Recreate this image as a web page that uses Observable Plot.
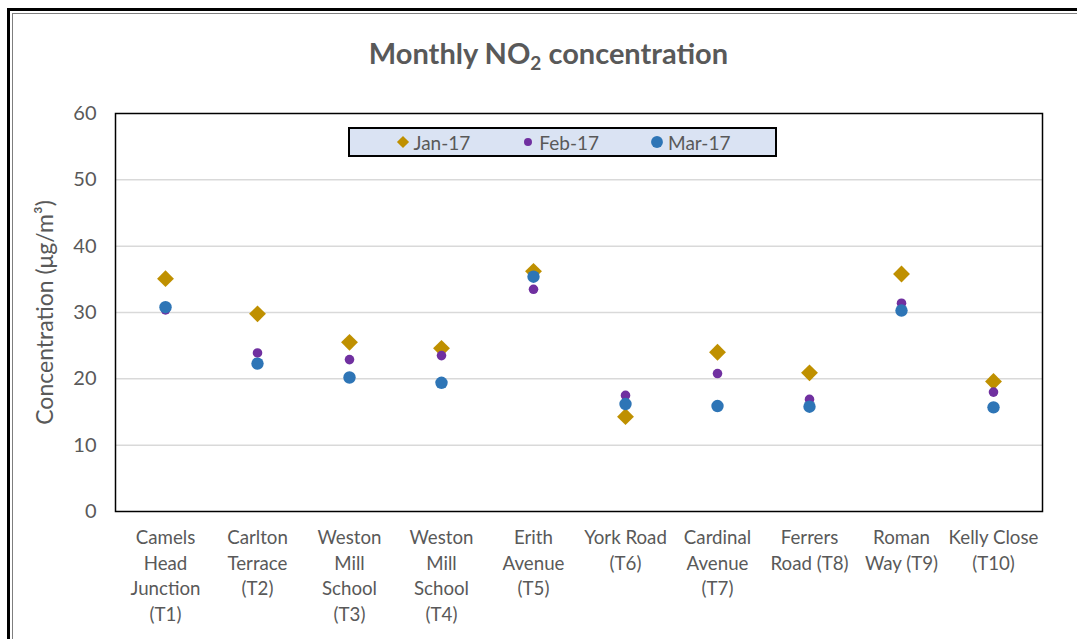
<!DOCTYPE html>
<html>
<head>
<meta charset="utf-8">
<script src="https://cdn.jsdelivr.net/npm/d3@7"></script>
<script src="https://cdn.jsdelivr.net/npm/@observablehq/plot@0.6"></script>
<style>
  html, body { margin: 0; padding: 0; background: #fff; }
  #wrap { position: relative; width: 1077px; height: 639px; overflow: hidden; font-family: Lato, "Open Sans", sans-serif; color: #595959; }
  #frame1 { position: absolute; left: 7px; top: 8px; width: 1200px; height: 800px; border: 3px solid #000; box-sizing: border-box; }
  #frame2 { position: absolute; left: 12px; top: 13px; width: 1200px; height: 800px; border: 1px solid #7f7f7f; box-sizing: border-box; }
  #title { position: absolute; left: 0; width: 1097px; top: 35px; text-align: center; font-size: 29px; font-weight: bold; color: #595959; }
  #title sub { font-size: 19px; vertical-align: -6px; line-height: 0; }
  #chart { position: absolute; left: 0; top: 0; }
  #legend { position: absolute; left: 348px; top: 127px; width: 429px; height: 30px; box-sizing: border-box; border: 2px solid #000; background: #dae3f3; display: flex; align-items: center; justify-content: center; gap: 50px; font-size: 19px; color: #595959; }
  #legend .item { display: flex; align-items: center; gap: 3px; }
</style>
</head>
<body>
<div id="wrap">
  <div id="frame1"></div>
  <div id="frame2"></div>
  <div id="chart"></div>
  <div id="title">Monthly NO<sub>2</sub> concentration</div>
  <div id="legend"></div>
</div>
<script>
const sites = [
  "Camels\nHead\nJunction\n(T1)",
  "Carlton\nTerrace\n(T2)",
  "Weston\nMill\nSchool\n(T3)",
  "Weston\nMill\nSchool\n(T4)",
  "Erith\nAvenue\n(T5)",
  "York Road\n(T6)",
  "Cardinal\nAvenue\n(T7)",
  "Ferrers\nRoad (T8)",
  "Roman\nWay (T9)",
  "Kelly Close\n(T10)"
];
const jan17 = [35.1, 29.8, 25.5, 24.6, 36.2, 14.3, 24.0, 20.9, 35.8, 19.6];
const feb17 = [30.4, 23.9, 22.9, 23.5, 33.5, 17.5, 20.8, 16.9, 31.4, 18.0];
const mar17 = [30.8, 22.3, 20.2, 19.4, 35.4, 16.2, 15.9, 15.8, 30.3, 15.7];
const seriesNames = ["Jan-17", "Feb-17", "Mar-17"];
const yTicks = [0, 10, 20, 30, 40, 50, 60];
const yTitle = "Concentration (μg/m³)";

const seriesStyle = [
  {name: seriesNames[0], values: jan17, symbol: "diamond2", r: 7.6, fill: "#bf9000"},
  {name: seriesNames[1], values: feb17, symbol: "circle", r: 4.8, fill: "#7030a0"},
  {name: seriesNames[2], values: mar17, symbol: "circle", r: 6.2, fill: "#2e75b6"}
];

const rows = seriesStyle.map(s => s.values.map((v, i) => ({site: sites[i], value: v, series: s.name})));

const chart = Plot.plot({
  width: 1077,
  height: 639,
  marginLeft: 115,
  marginRight: 35,
  marginTop: 113,
  marginBottom: 128,
  style: {fontFamily: "Lato, 'Open Sans', sans-serif", fontSize: "18px", color: "#595959", background: "transparent", overflow: "visible"},
  x: {type: "band", domain: sites, padding: 0},
  y: {domain: [0, 60]},
  marks: [
    Plot.gridY(yTicks.filter(t => t > 0 && t < 60), {stroke: "#d9d9d9", strokeOpacity: 1, strokeWidth: 1.5}),
    Plot.frame({stroke: "#000", strokeWidth: 1.5}),
    Plot.axisY(yTicks, {tickSize: 0, tickPadding: 19, label: null, fontSize: 20}),
    Plot.axisX({tickSize: 0, tickPadding: 14, label: null, lineHeight: 1.38, fontSize: 18.7, tickFormat: d => d}),
    Plot.text([yTitle], {frameAnchor: "left", textAnchor: "middle", dx: -70, rotate: -90, fontSize: 23, fill: "#595959", text: d => d}),
    ...seriesStyle.map((s, k) => Plot.dot(rows[k], {x: "site", y: "value", symbol: () => s.symbol, r: s.r, fill: s.fill, stroke: "none"}))
  ]
});
document.getElementById("chart").appendChild(chart);

// legend
const legend = d3.select("#legend");
seriesStyle.forEach(s => {
  const item = legend.append("div").attr("class", "item");
  const svg = item.append("svg").attr("width", 16).attr("height", 16);
  const sym = s.symbol === "diamond2" ? d3.symbolDiamond2 : d3.symbolCircle;
  const size = s.symbol === "diamond2" ? 95 : (s.name === "Feb-17" ? 50 : 110);
  svg.append("path").attr("transform", "translate(8,8)").attr("d", d3.symbol(sym, size)()).attr("fill", s.fill);
  item.append("span").text(s.name);
});
</script>
</body>
</html>
